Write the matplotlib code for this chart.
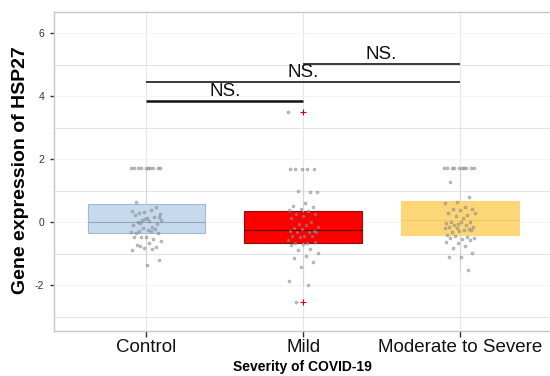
import numpy as np
import matplotlib
matplotlib.use('Agg')
import matplotlib.pyplot as plt

plt.rcParams['font.family'] = ['Liberation Sans', 'DejaVu Sans']
plt.rcParams['axes.unicode_minus'] = False

groups = ['Control', 'Mild', 'Moderate to Severe']

# box statistics
q1 = [-0.35, -0.67, -0.41]
med = [0.0, -0.25, 0.05]
q3 = [0.57, 0.35, 0.67]
whis_lo = [-1.37, -2.0, -1.52]
whis_hi = [1.72, 1.70, 1.72]
fliers = [[], [3.50, -2.55], []]

box_fill = ['#c6daee', '#ff0000', '#fdd677']
box_edge = ['#9fbad8', '#8a1010', '#fdd677']
med_color = ['#8fa6c0', '#5a0000', '#f2c860']

# jittered points
control_pts = [1.72, 1.72, 1.72, 1.72, 1.72, 1.72, 1.72, 1.72, 1.72, 1.72,
               0.64, 0.48, 0.31, 0.35, 0.38, 0.29, 0.17, 0.13, 0.22, 0.15,
               0.08, 0.05, 0.02, 0.0, -0.05, 0.10, -0.10, -0.15, -0.02, 0.25,
               -0.25, -0.36, -0.23, -0.19, -0.33, -0.30, -0.28, -0.36, -0.48,
               -0.47, -0.55, -0.48, -0.61, -0.66, -0.73, -0.78, -0.83, -0.88,
               -0.86, -0.76, -1.21, -1.37]
mild_pts = [3.50, 1.70, 1.70, 1.70, 1.70, 1.70, 0.96, 1.00, 0.94, 0.60,
            0.51, 0.48, 0.40, 0.38, 0.35, 0.25, 0.25, 0.19, 0.12, 0.0,
            -0.06, -0.15, -0.10, -0.20, -0.28, -0.22, -0.30, -0.31, -0.31,
            -0.33, -0.45, -0.45, -0.45, -0.48, -0.57, -0.67, -0.67, -0.64,
            -0.71, -0.73, -0.85, -0.89, -0.98, -1.07, -1.14, -1.27, -1.43,
            -1.88, -2.00, -2.54]
severe_pts = [1.72, 1.72, 1.72, 1.72, 1.72, 1.72, 1.72, 1.72, 1.72, 1.72,
              1.28, 0.79, 0.63, 0.60, 0.48, 0.41, 0.40, 0.37, 0.29, 0.22,
              0.20, 0.29, 0.13, 0.0, 0.0, -0.06, -0.04, -0.08, -0.10, -0.16,
              0.0, -0.16, -0.22, -0.19, -0.19, -0.25, -0.31, -0.25, -0.30,
              -0.41, -0.48, -0.44, -0.51, -0.54, -0.50, -0.57, -0.66, -0.63,
              -0.76, -0.83, -0.98, -1.11, -1.11, -1.52]
points = [control_pts, mild_pts, severe_pts]

# significance brackets: (from group, to group, height, label)
brackets = [(1, 2, 3.84, 'NS.'), (1, 3, 4.44, 'NS.'), (2, 3, 5.03, 'NS.')]

fig = plt.figure(figsize=(5.5, 3.76), dpi=100)
ax = fig.add_axes([54 / 550, 45 / 376, 1 - 54 / 550, 319 / 376])

ax.set_xlim(0.41, 3.575)
ax.set_ylim(-3.46, 6.67)

# grid
ax.set_yticks([-2, 0, 2, 4, 6])
ax.set_yticks([-3, -1, 1, 3, 5], minor=True)
ax.set_xticks([1, 2, 3])
ax.grid(True, which='major', axis='y', color='#f4f4f4', lw=0.8)
ax.grid(True, which='minor', axis='y', color='#e4e4e4', lw=0.8)
ax.grid(True, which='major', axis='x', color='#e6e6e6', lw=0.8)
ax.set_axisbelow(True)

stats = []
for i in range(3):
    stats.append(dict(med=med[i], q1=q1[i], q3=q3[i], whislo=whis_lo[i],
                      whishi=whis_hi[i], fliers=fliers[i]))
bp = ax.bxp(stats, positions=[1, 2, 3], widths=0.75, patch_artist=True,
            showcaps=False, manage_ticks=False,
            whiskerprops=dict(color='#d6d6d6', lw=0.8),
            flierprops=dict(marker='+', markeredgecolor='#e00000',
                            markersize=4, markeredgewidth=0.8))
for i, b in enumerate(bp['boxes']):
    b.set_facecolor(box_fill[i])
    b.set_edgecolor(box_edge[i])
    b.set_linewidth(0.8)
    b.set_zorder(2)
for i, m in enumerate(bp['medians']):
    m.set_color(med_color[i])
    m.set_linewidth(0.8)

for i, vals in enumerate(points):
    n = len(vals)
    jit = ((np.arange(n) * 0.618034) % 1 - 0.5) * 0.2
    ax.scatter(i + 1 + jit, vals, s=5, color='#999999', alpha=0.6,
               edgecolors='#666666', linewidths=0.3, zorder=3)

for a, b, h, lab in brackets:
    if a == 1 and b == 2:
        ax.plot([a, b], [h, h], color='#111111', lw=1.8, solid_capstyle='butt')
    else:
        ax.plot([a, b], [h, h], color='#3a3a3a', lw=1.4, solid_capstyle='butt')
    ax.text((a + b) / 2, h + 0.03, lab, ha='center', va='bottom',
            fontsize=13.5, color='#111111')

for s in ['left', 'bottom', 'top']:
    ax.spines[s].set_color('#c8c8c8')
    ax.spines[s].set_linewidth(1.0)
ax.spines['right'].set_visible(False)

ax.set_xticklabels(groups, fontsize=13.5, color='#111111')
ax.tick_params(axis='y', labelsize=7.5, labelcolor='#333333', length=3,
               width=1, color='#333333', pad=4)
ax.tick_params(axis='y', which='minor', length=0)
ax.tick_params(axis='x', length=4, width=1, color='#333333', pad=2)

fig.text(21 / 550, 1 - 170 / 376, 'Gene expression of HSP27', rotation=90,
         ha='center', va='center', fontsize=14, fontweight='bold')
ax.set_xlabel('Severity of COVID-19', fontsize=10, fontweight='bold',
              labelpad=3)

fig.savefig('out.png', dpi=100, facecolor='white')
